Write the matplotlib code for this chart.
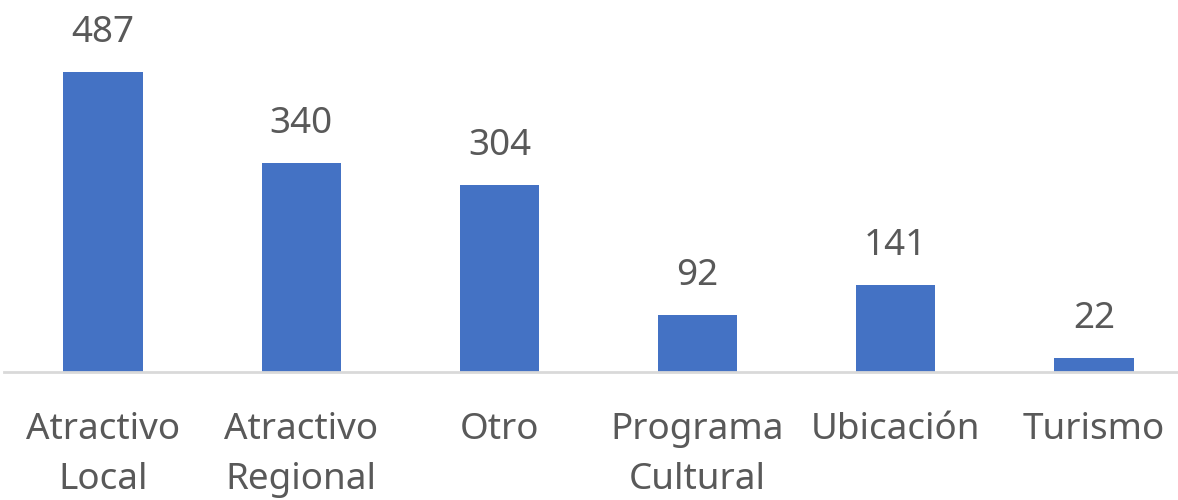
import matplotlib.pyplot as plt

# datos
categorias = ["Atractivo\nLocal", "Atractivo\nRegional", "Otro",
              "Programa\nCultural", "Ubicación", "Turismo"]
valores = [487, 340, 304, 92, 141, 22]

plt.rcParams["font.family"] = ["Noto Sans", "DejaVu Sans"]

W, H = 1178, 500
fig = plt.figure(figsize=(W / 100, H / 100), dpi=100)
# eje algo más ancho que la imagen (recortado a la derecha como el original)
ax = fig.add_axes([4 / W, (H - 372) / H, 1189 / W, 345 / H])

x = range(len(categorias))
ax.bar(x, valores, width=0.40, color="#4472C4")
ax.set_xlim(-0.5, len(categorias) - 0.5)
ax.set_ylim(0, 560)

for xi, v in zip(x, valores):
    ax.annotate(str(v), (xi, v), xytext=(0, 21.6), textcoords="offset points",
                ha="center", va="baseline", fontsize=26.5, color="#595959")

ax.set_xticks(list(x))
ax.set_xticklabels(categorias, fontsize=26.5, color="#595959", linespacing=1.5)
ax.tick_params(axis="x", length=0, pad=29)
ax.set_yticks([])
for s in ["top", "right", "left"]:
    ax.spines[s].set_visible(False)
ax.spines["bottom"].set_color("#d9d9d9")
ax.spines["bottom"].set_linewidth(2)

fig.savefig("out.png", dpi=100)
